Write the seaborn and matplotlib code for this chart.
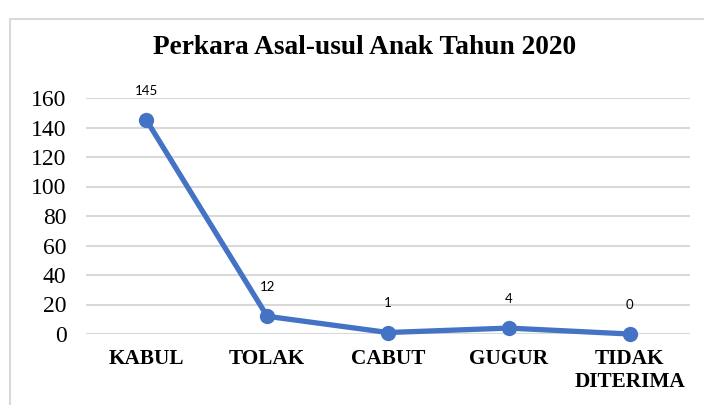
import matplotlib
matplotlib.use("Agg")
import matplotlib.pyplot as plt
import seaborn as sns
import pandas as pd
from matplotlib.patches import Rectangle

categories = ["KABUL", "TOLAK", "CABUT", "GUGUR", "TIDAK\nDITERIMA"]
values = [145, 12, 1, 4, 0]
yticks = [0, 20, 40, 60, 80, 100, 120, 140, 160]

df = pd.DataFrame({"kategori": categories, "jumlah": values})

sns.set_style("white")
serif = ["Liberation Serif", "DejaVu Serif"]

fig = plt.figure(figsize=(7.04, 4.05), dpi=100)
ax = fig.add_axes([86 / 704, 1 - 334 / 405, (690 - 86) / 704, (334 - 98) / 405])

# chart frame like the office chart border
fig.patches.append(Rectangle((10 / 704, -0.1), 1.2, 1 - 19 / 405 + 0.1,
                             transform=fig.transFigure, fill=False,
                             edgecolor="#d9d9d9", linewidth=1.5))

sns.lineplot(data=df, x="kategori", y="jumlah", ax=ax, color="#4472c4",
             linewidth=3.8, marker="o", markersize=11, markeredgewidth=0,
             sort=False, clip_on=False)

for i, v in enumerate(values):
    ax.annotate(str(v), (i, v), xytext=(0, 21), textcoords="offset points",
                ha="center", va="center", fontsize=9.5, family="Lato",
                color="black")

ax.set_xlim(-0.5, 4.5)
ax.set_ylim(0, 160)
ax.set_yticks(yticks)
ax.set_yticklabels([str(t) for t in yticks], family=serif, fontsize=17)
ax.set_xticks(range(len(categories)))
ax.set_xticklabels(categories, family=serif, fontsize=15.3, fontweight="bold",
                   linespacing=1.2)
ax.tick_params(axis="both", length=0, labelcolor="black")
ax.tick_params(axis="x", pad=11)
ax.tick_params(axis="y", pad=14)
ax.grid(axis="y", color="#d9d9d9", linewidth=1.5)
ax.set_axisbelow(True)
ax.set_xlabel("")
ax.set_ylabel("")
for s in ax.spines.values():
    s.set_visible(False)

fig.text(365 / 704, 1 - 48 / 405, "Perkara Asal-usul Anak Tahun 2020",
         ha="center", va="center", family=serif, fontsize=19.7,
         fontweight="bold", color="black")

fig.savefig("out.png", dpi=100)
